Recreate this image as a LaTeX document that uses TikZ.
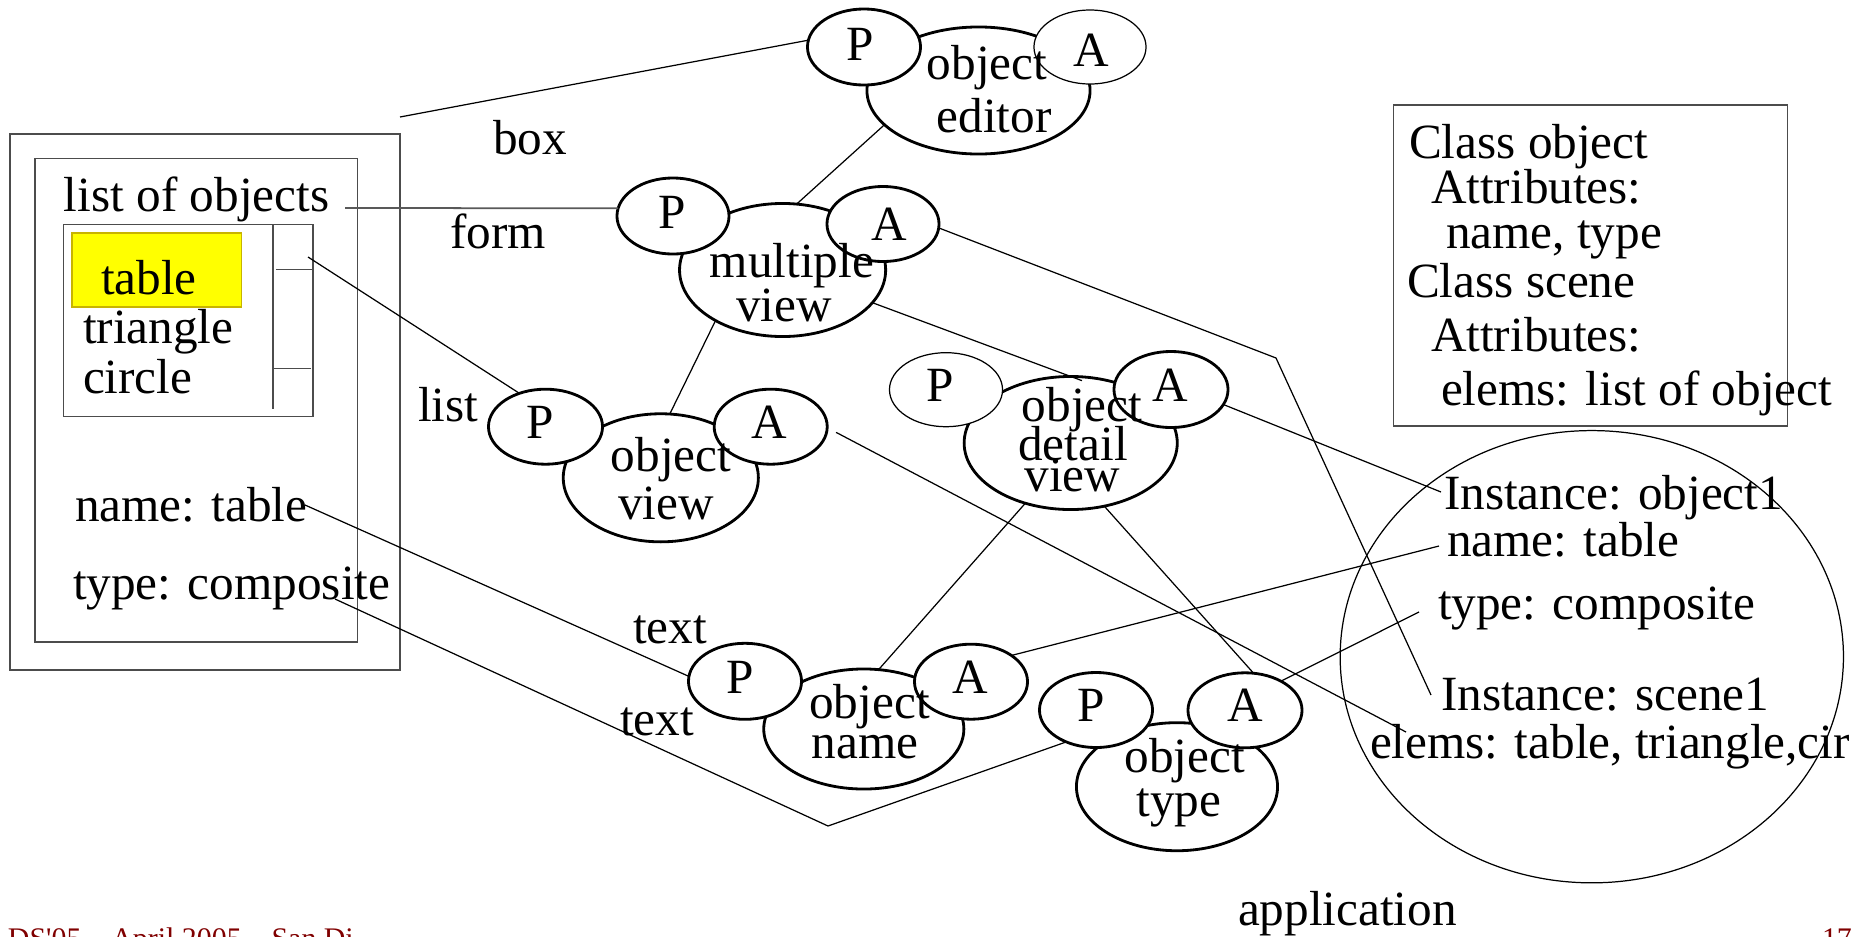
\documentclass[tikz,border=0pt]{standalone}
\usepackage{fontspec}
\setmainfont{Liberation Serif}
\usetikzlibrary{shapes.geometric}
\definecolor{footred}{RGB}{128,0,0}
\definecolor{selyellow}{RGB}{255,255,0}
\definecolor{selborder}{RGB}{200,180,0}
\tikzset{
  every node/.style={inner sep=0pt, outer sep=0pt},
  txt/.style={font=\fontsize{14}{16}\selectfont, anchor=base west},
  ctxt/.style={font=\fontsize{14}{16}\selectfont, anchor=base},
  thickell/.style={ellipse, draw, line width=0.8pt, fill=white},
  thinell/.style={ellipse, draw, line width=0.35pt, fill=white},
  sz/.style 2 args={minimum width=#1, minimum height=#2},
  wire/.style={line width=0.35pt},
  grayline/.style={draw=black!65, line width=0.5pt},
  frame/.style={draw=black!70, line width=0.45pt},
  foot/.style={font=\fontsize{8.5}{10}\selectfont, text=footred, anchor=base west},
}
\begin{document}
\begin{tikzpicture}[x=0.01cm,y=-0.01cm]
\useasboundingbox (0,0) rectangle (1854,936);

% ---- form mock-up on the left ----
\draw[frame] (9.8,134) rectangle (400,670);
\draw[frame] (34.8,158.7) rectangle (357.6,642);
\draw[frame] (63.4,224.7) rectangle (313,416.5);
\draw[fill=selyellow, draw=selborder, line width=0.5pt] (72.3,232.7) rectangle (241.5,306.7);
\draw[frame] (272.8,224.7) -- (272.8,409.3);
\draw[frame] (276,269.3) -- (313,269.3);
\draw[frame] (273,368.3) -- (311,368.3);

\node[txt] (lof) at (64,211.7) {list of objects};
\node[txt] (itable) at (101,294.3) {table};
\node[txt] (itri) at (83,343.3) {triangle};
\node[txt] (icirc) at (83,393.3) {circle};
\node[txt] (fname) at (75,521.7) {name: table};
\node[txt] (ftype) at (73,599.3) {type: composite};

% ---- widget labels ----
\node[txt] (lbox) at (493,154) {box};
\node[txt] (lform) at (450,248.3) {form};
\node[txt] (llist) at (418,421.7) {list};
\node[txt] (ltext1) at (633,643.3) {text};
\node[txt] (ltext2) at (620,735) {text};

% ---- PAC agents ----
% object editor
\node[thickell, sz={2.23cm}{1.27cm}] (oe) at (978.5,90.5) {};
\node[thickell, sz={1.13cm}{0.76cm}] (oeP) at (864,47) {};
\node[thinell, sz={1.12cm}{0.74cm}] (oeA) at (1090,47) {};
% multiple view
\node[thickell, sz={2.06cm}{1.33cm}] (mv) at (782.6,270) {};
\node[thickell, sz={1.12cm}{0.76cm}] (mvP) at (673,216) {};
\node[thickell, sz={1.12cm}{0.75cm}] (mvA) at (883,224) {};
% object detail view
\node[thickell, sz={2.13cm}{1.33cm}] (odv) at (1070.7,443) {};
\node[thinell, sz={1.13cm}{0.74cm}] (odvP) at (946,389.7) {};
\node[thickell, sz={1.14cm}{0.76cm}] (odvA) at (1171,389.5) {};
% object view
\node[thickell, sz={1.95cm}{1.28cm}] (ov) at (660.8,477.8) {};
\node[thickell, sz={1.14cm}{0.75cm}] (ovP) at (545.5,426.7) {};
\node[thickell, sz={1.13cm}{0.75cm}] (ovA) at (770.7,426.7) {};
% object name
\node[thickell, sz={2.00cm}{1.20cm}] (on) at (863.8,729) {};
\node[thickell, sz={1.13cm}{0.76cm}] (onP) at (745,681.3) {};
\node[thickell, sz={1.13cm}{0.75cm}] (onA) at (971,681.7) {};
% object type
\node[thickell, sz={2.01cm}{1.28cm}] (ot) at (1177,786.7) {};
\node[thickell, sz={1.13cm}{0.75cm}] (otP) at (1096,710) {};
\node[thickell, sz={1.14cm}{0.75cm}] (otA) at (1245,710.3) {};

% agent texts
\node[ctxt] (oePt) at (860,60) {P};
\node[ctxt] (oeAt) at (1091,66.7) {A};
\node[ctxt] (oet1) at (987,79.3) {object};
\node[ctxt] (oet2) at (994,132.7) {editor};

\node[ctxt] (mvPt) at (672.6,228.3) {P};
\node[ctxt] (mvAt) at (889,240.7) {A};
\node[ctxt] (mvt1) at (792,277.3) {multiple};
\node[ctxt] (mvt2) at (784,321.7) {view};

\node[ctxt] (odvPt) at (940,401.7) {P};
\node[ctxt] (odvAt) at (1170,401.7) {A};
\node[ctxt] (odvt1) at (1082,421.7) {object};
\node[ctxt] (odvt2) at (1073,460) {detail};
\node[ctxt] (odvt3) at (1072.5,491.7) {view};

\node[ctxt] (ovPt) at (540,438.3) {P};
\node[ctxt] (ovAt) at (769.3,438.3) {A};
\node[ctxt] (ovt1) at (671,471.7) {object};
\node[ctxt] (ovt2) at (666,519.3) {view};

\node[ctxt] (onPt) at (740.6,693.3) {P};
\node[ctxt] (onAt) at (970,693.3) {A};
\node[ctxt] (ont1) at (869.5,718.3) {object};
\node[ctxt] (ont2) at (865,758.3) {name};

\node[ctxt] (otPt) at (1091,721.7) {P};
\node[ctxt] (otAt) at (1245,721.7) {A};
\node[ctxt] (ott1) at (1184.8,772.7) {object};
\node[ctxt] (ott2) at (1179,816) {type};

% ---- class box ----
\draw[frame] (1393.3,105) rectangle (1787.4,426);
\node[txt] (c1) at (1409,158.3) {Class object};
\node[txt] (c2) at (1431,203.3) {Attributes:};
\node[txt] (c3) at (1446,248.3) {name, type};
\node[txt] (c4) at (1407,297.7) {Class scene};
\node[txt] (c5) at (1431,351.7) {Attributes:};
\node[txt] (c6) at (1441,405.7) {elems: list of object};

% ---- instances ----
\node[ellipse, draw, line width=0.35pt, sz={5.03cm}{4.52cm}] (inst) at (1591.8,656.7) {};
\node[txt] (i1) at (1444,509.3) {Instance: object1};
\node[txt] (i2) at (1447,556.7) {name: table};
\node[txt] (i3) at (1438,619.3) {type: composite};
\node[txt] (i4) at (1441,710) {Instance: scene1};
\node[txt] (i5) at (1370,758.3) {elems: table, triangle,cir};

\node[txt] (app) at (1238,925) {application};

% ---- footer ----
\node[foot] (foot1) at (8,948) {DS\textquotesingle 05 -- April 2005 -- San Di};
\node[foot] (foot2) at (1822,948) {17};

% ---- connectors ----
\coordinate (boxtip) at (400,117);
\coordinate (lofend) at (345,208);
\coordinate (listtab) at (308,257);
\coordinate (nameend) at (305,505);
\coordinate (typeend) at (335,599);
\coordinate (vtx) at (828,826);
\coordinate (bend) at (1276,358);
\coordinate (toscene) at (1431,695);
\coordinate (toobj) at (1441,492);
\coordinate (toname) at (1439,546);
\coordinate (totype) at (1419,612);
\coordinate (toelems) at (1406,732);

\draw[wire] (boxtip) -- (oeP.173);
\draw[grayline] (lofend) -- (mvP.172);
\draw[wire] (listtab) -- (ovP.128);
\draw[wire] (nameend) -- (onP.175);
\draw[wire] (typeend) -- (vtx) -- (otP.227);
\draw[wire] (oe.200) -- (mv.78);
\draw[wire] (mv.217) -- (ov.82);
\draw[wire] (mvA.-4) -- (bend) -- (toscene);
\draw[wire, shorten >=-0.12cm] (mv.-20) -- (odv.north);
\draw[wire] (odvA.-16) -- (toobj);
\draw[wire] (odv.233) -- (on.76);
\draw[wire] (odv.-62) -- (otA.77);
\draw[wire, shorten <=0.1cm] (ovA.-1) -- (toelems);
\draw[wire] (onA.33) -- (toname);
\draw[wire] (otA.39) -- (totype);
\end{tikzpicture}
\end{document}
